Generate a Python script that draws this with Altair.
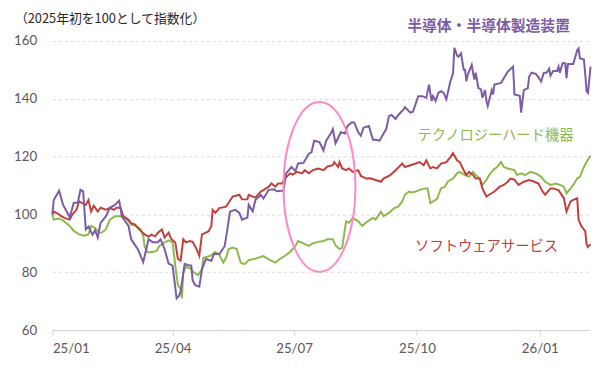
import altair as alt
import pandas as pd

BASE = pd.Timestamp("2025-01-01")

# days since 2025-01-01 and index values (2025 start = 100)
semi_days = [0,1,5,8,10,13,16,19,21,23,25,27,30,32,34,36,40,43,46,50,52,54,57,59,61,64,68,72,75,79,
             81,84,87,90,93,95,96,99,101,104,105,107,110,112,115,119,121,125,129,131,133,137,140,142,146,147,150,152,156,158,
             162,166,168,173,175,179,182,184,188,192,194,196,200,203,205,209,210,212,216,219,221,224,226,229,231,233,237,240,242,245,
             248,250,252,254,257,259,263,264,268,270,274,277,280,282,283,284,285,287,289,291,293,295,298,300,301,303,304,306,308,309,
             310,311,314,315,316,317,319,321,322,324,325,326,329,330,331,336,341,345,346,350,351,353,356,357,359,362,364,366,368,370,
             372,373,375,378,379,380,382,384,385,386,390,393,394,395,398,399,400,401,403]
semi_vals = [100,105,108.2,103.3,101.6,99,104,104,108.5,108,94.8,95.8,93,94.5,92,97,99.3,102.3,103,104.7,
             99.4,98,96,91.4,90,88,83.5,91.4,90.4,90.4,91.4,88,83,82.3,71,72,73.3,82.9,82.5,82.3,
             77.2,75.5,75,81,84.6,84,86.3,86.3,89,94.8,101,101.6,100.5,98.2,98.9,103.3,101,105,106.8,105.5,
             108.5,108.7,108,108.2,114.2,116.4,115,117.6,117.8,121,121.5,125.5,125,122.1,125.5,128.4,129.5,124.6,128.4,128,
             130.6,131.8,131.8,128.4,127.2,130,130.6,125.8,125.8,125.5,128,129.5,134,134.4,133,134.4,136.3,137.1,135.2,135.5,
             140.9,140.9,140.3,144.9,142,139.2,140.9,139.2,142,142.6,142,139.8,146,148.8,157.6,155,154.5,155.7,150,150,
             146,148.3,151.7,149,146.6,149,143.7,143.2,140.3,143,139.2,137.5,143,141.5,144.9,145.5,149.4,151.1,141.5,141,
             135.2,143,143.7,147.7,149,148.6,147.4,146,149,149,150.4,148,149.6,149.6,151.1,149,152.3,152.3,147.1,152,
             152,156.8,157.4,154,153.6,148.6,142.6,142,151.1]

hw_days = [0,1,5,8,10,13,16,20,24,27,29,32,35,37,40,43,47,51,53,56,59,63,66,68,69,71,74,78,80,84,
           87,90,92,94,96,97,98,100,103,106,109,112,113,118,122,125,128,130,132,135,138,141,144,147,152,158,163,167,170,174,
           178,182,184,188,192,195,199,203,206,210,212,215,217,219,220,222,225,229,232,236,240,242,246,248,252,256,259,262,264,267,
           269,272,275,279,281,283,285,288,291,294,296,300,303,305,309,312,315,317,320,322,325,327,330,333,336,338,341,346,348,351,
           354,358,362,366,369,373,377,380,383,385,388,390,393,395,398,400,403]
hw_vals = [100,98.2,98.6,97.9,97.1,96,94.3,93.1,92.6,93.1,96,95.3,93.7,93.7,94.8,98.2,99.4,99.4,98.8,98.2,
           96.5,95.9,94.8,92.6,89,86.9,86.9,87.4,89,90.3,91,90.3,82.3,75.5,74.3,71,80,81.8,81.4,79.9,
           79,81,85,85.6,87,86,83.3,85,88,88.5,88,83.3,82.8,84.2,84.7,85.6,84.2,83.3,84.5,85.6,
           87,89.1,90.8,90,89.1,90,90.5,90.8,91.4,91.4,89.3,88,88.5,94.8,97.6,97.1,98.8,97.6,96,97.6,
           98.8,98.2,101,99.4,100.5,102.2,102.7,104.5,106.8,107.9,107.6,107.9,108.5,109,109,103.9,104.5,105.3,109,109.6,
           111.3,112.4,114.2,114.7,113.6,113,114.7,113.6,112.4,110.2,111.9,113.6,115.3,116.4,118.1,116.4,115.9,115.3,113.6,114.2,
           113.6,114.7,114.2,113,111.3,110.2,110.7,110.2,109.6,107.3,109,110.2,112.4,113,116.4,118.1,120.4]

sw_days = [0,1,4,6,9,13,15,18,20,22,25,27,29,31,34,36,40,43,46,48,51,53,57,59,62,64,69,72,74,77,
           79,82,84,87,89,92,94,96,98,100,103,105,108,110,112,115,117,119,120,122,125,130,135,140,142,146,147,152,156,158,
           162,164,167,169,172,174,178,180,183,187,189,192,195,199,203,206,210,211,214,215,217,220,222,225,229,231,235,238,242,246,
           248,253,257,262,264,268,272,275,278,280,283,285,288,291,295,298,300,303,305,308,310,312,315,317,320,322,325,327,331,335,
           338,341,343,346,349,353,357,361,364,367,369,373,375,379,383,385,388,390,393,394,396,399,400,401,403]
sw_vals = [100,101,100.3,99.6,98.8,98.2,100,101.6,104.5,104,103.3,105,101,103,101,102.3,101.6,102.3,101.6,102.3,
           102.3,99.4,98.2,97,96.5,95.3,93.1,92.3,93,92.4,93.7,94.8,92,93.7,91.5,90.3,84.6,84,91.4,90.3,
           90.8,90.5,88,85.7,93.1,93.7,94.2,96,101.6,100.6,102.2,102.7,106.2,106.8,105.2,105.2,106.8,105.8,107.9,108.4,
           109.6,110.7,109.6,110.7,110.7,112.4,114.2,113.8,114.7,114.2,115.3,114.2,115.3,115.9,115.3,116.6,117,118.1,116.4,118.1,
           115.9,115.3,115.9,114.7,115.3,113.3,112.4,112.5,111.9,111.3,112.4,113.6,115.3,117.6,116.4,117,117.6,118.1,117,118.7,
           115.9,116.4,115.9,117.6,118.1,119.8,121.2,118.7,118.1,115.3,113.6,114.7,113.6,112.4,112.4,109,106.2,106.8,107.9,109.6,
           110.2,111.3,112.4,112,110.2,111.3,111.9,111.3,110.7,107.9,106.8,109,109,108.4,105.6,101,104.5,105,105.6,98.2,
           96,94.2,89.7,88.7,89.7]

series_names = ["テクノロジーハード機器", "ソフトウェアサービス", "半導体・半導体製造装置"]
series_colors = ["#8DB84A", "#C0403C", "#7B5BA6"]
y_ticks = [60, 80, 100, 120, 140, 160]
title_text = "（2025年初を100として指数化）"
highlight_date = "2025-07-20"
highlight_value = 109.5

def frame(name, days, vals):
    return pd.DataFrame({
        "date": BASE + pd.to_timedelta(days, unit="D"),
        "value": vals,
        "series": name,
    })

df = pd.concat([
    frame(series_names[0], hw_days, hw_vals),
    frame(series_names[1], sw_days, sw_vals),
    frame(series_names[2], semi_days, semi_vals),
], ignore_index=True)

tick_dates = [alt.DateTime(year=2025, month=1, date=1), alt.DateTime(year=2025, month=4, date=1),
              alt.DateTime(year=2025, month=7, date=1), alt.DateTime(year=2025, month=10, date=1),
              alt.DateTime(year=2026, month=1, date=1)]

x_enc = alt.X("date:T",
              scale=alt.Scale(domain=[alt.DateTime(year=2025, month=1, date=1),
                                      alt.DateTime(year=2026, month=2, date=7)]),
              axis=alt.Axis(values=tick_dates, format="%y/%m", title=None, grid=False,
                            domainColor="#d0d0d0", tickColor="#d0d0d0", tickSize=5,
                            labelPadding=7, labelFont="Lato", labelFontSize=13.5,
                            labelColor="#595959"))
y_enc = alt.Y("value:Q",
              scale=alt.Scale(domain=[60, 160], nice=False, zero=False),
              axis=alt.Axis(values=y_ticks, title=None, domain=False, ticks=False,
                            labelPadding=16, gridDash=[3, 3], gridColor="#d9d9d9",
                            labelFont="Lato", labelFontSize=13.5, labelColor="#595959"))

lines = alt.Chart(df).mark_line(strokeWidth=2).encode(
    x=x_enc, y=y_enc,
    color=alt.Color("series:N", scale=alt.Scale(domain=series_names, range=series_colors), legend=None),
)

ELLIPSE = ("M 0 -1 C 0.2342 -1 0.424 -0.5523 0.424 0 C 0.424 0.5523 0.2342 1 0 1 "
           "C -0.2342 1 -0.424 0.5523 -0.424 0 C -0.424 -0.5523 -0.2342 -1 0 -1 Z")
ell_df = pd.DataFrame({"date": [pd.Timestamp(highlight_date)], "value": [highlight_value]})
ellipse = alt.Chart(ell_df).mark_point(shape=ELLIPSE, size=29584, filled=False,
                                       color="#FF8AC8", strokeWidth=2, opacity=1).encode(
    x="date:T", y="value:Q")

def label(text, color, px, py, size, weight):
    return alt.Chart(pd.DataFrame({"t": [text]})).mark_text(
        font="Noto Sans CJK JP", fontSize=size, fontWeight=weight, color=color,
        align="center", baseline="middle").encode(
        x=alt.value(px), y=alt.value(py), text="t:N")

title = alt.Chart(pd.DataFrame({"t": [title_text]})).mark_text(
    font="Noto Sans CJK JP", fontSize=13, color="#262626", align="left", baseline="middle").encode(
    x=alt.value(-38), y=alt.value(-22), text="t:N")

chart = alt.layer(
    lines, ellipse, title,
    label(series_names[2], series_colors[2], 442, -15, 15, "bold"),
    label(series_names[0], series_colors[0], 449, 96, 14.5, "normal"),
    label(series_names[1], series_colors[1], 440, 209, 14.5, "normal"),
).properties(
    width=544, height=293,
    padding={"left": 45, "top": 31, "right": 18, "bottom": 31},
    autosize="none",
).configure_view(stroke=None)

chart.save("out.html", embed_options={"renderer": "svg", "actions": False})
